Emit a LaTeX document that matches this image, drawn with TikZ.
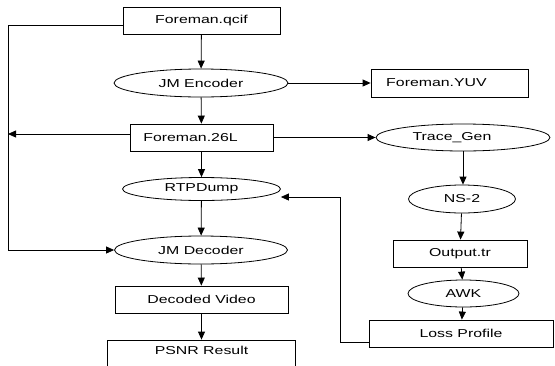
\documentclass[tikz,border=0pt]{standalone}
\usepackage{fontspec}
\setmainfont{Liberation Sans}
\usepackage{graphicx}
\usetikzlibrary{shapes.geometric,arrows.meta,calc}
\newcommand{\tx}[1]{\scalebox{1.38}[1]{#1}}
\tikzset{
  base/.style={draw=black, line width=0.8pt, inner sep=0pt, font=\fontsize{11.5}{13}\selectfont},
  boxnode/.style={base, rectangle},
  ovalnode/.style={base, ellipse},
  arr/.style={draw=black, line width=0.8pt, -{Triangle[length=8pt,width=7pt]}},
  ln/.style={draw=black, line width=0.8pt}
}
\begin{document}
\begin{tikzpicture}[x=1pt,y=-1pt]
\useasboundingbox (0,0) rectangle (555,365);
\clip (0,0) rectangle (555,365);
\node[boxnode, minimum width=157, minimum height=27] (qcif) at (201.5,20.5) {\tx{Foreman.qcif}};
\node[ovalnode, minimum width=174, minimum height=28] (enc) at (201,83) {\tx{JM Encoder}};
\node[boxnode, minimum width=157, minimum height=28] (yuv) at (449.5,83) {\tx{Foreman.YUV}\hspace*{26pt}};
\node[boxnode, minimum width=143, minimum height=27] (l26) at (201.5,137.5) {\tx{Foreman.26L}\hspace*{22pt}};
\node[ovalnode, minimum width=174, minimum height=27] (trace) at (463,137.5) {\tx{Trace\_Gen}\hspace*{22pt}};
\node[ovalnode, minimum width=158, minimum height=23] (rtp) at (201.5,189) {\tx{RTPDump}};
\node[ovalnode, minimum width=107, minimum height=28] (ns) at (462,199) {\tx{NS-2}};
\node[ovalnode, minimum width=173, minimum height=28] (dec) at (201,250) {\tx{JM Decoder}};
\node[boxnode, minimum width=134, minimum height=27] (out) at (460,253.5) {\tx{Output.tr}};
\node[ovalnode, minimum width=111, minimum height=27] (awk) at (463.5,293.5) {\tx{AWK}};
\node[boxnode, minimum width=173, minimum height=27] (vid) at (201.5,299.5) {\tx{Decoded Video}};
\node[boxnode, minimum width=184, minimum height=27] (loss) at (461,333.5) {\tx{Loss Profile}};
\node[boxnode, minimum width=188, minimum height=28] (psnr) at (201.5,354) {\raisebox{7pt}{\tx{PSNR Result}}};
% left loop lines
\coordinate (lq) at (8,25);
\coordinate (la) at (8,134);
\coordinate (lr1) at (340,342);
\coordinate (lr2) at (340,197);
\draw[arr] (qcif.west |- lq) -- (lq) |- (dec.west);
\draw[arr] (l26.west |- la) -- (la);
\draw[arr] (loss.west |- lr1) -- (lr1) -- (lr2) -- (rtp.east |- lr2);
% main chain
\draw[arr] (qcif) -- (enc);
\draw[arr] (enc) -- (yuv);
\draw[arr] (enc) -- (l26);
\draw[arr] (l26) -- (trace);
\draw[arr] (l26) -- (rtp);
\draw[arr] (rtp) -- (dec);
\draw[arr] (dec) -- (vid);
\draw[arr] (vid) -- (psnr);
\draw[arr] (trace.south) -- (ns.north -| trace.south);
\draw[arr] (ns) -- (out);
\draw[arr] (out) -- (awk);
\draw[arr] (awk) -- (loss);
\end{tikzpicture}
\end{document}
